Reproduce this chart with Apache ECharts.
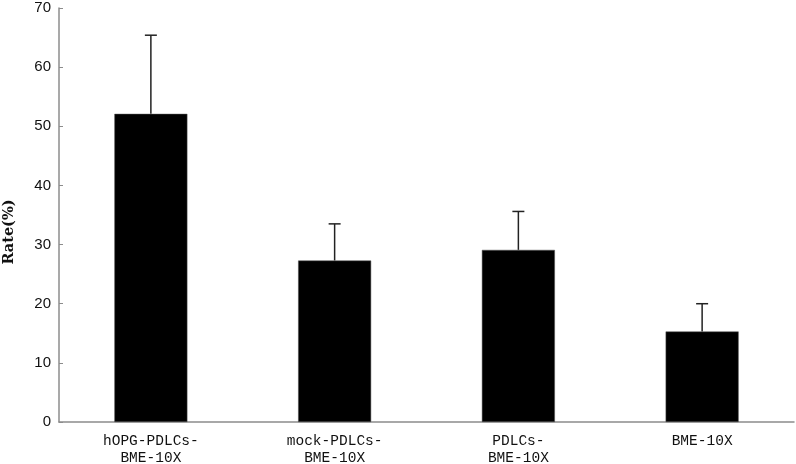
<!DOCTYPE html>
<html>
<head>
<meta charset="utf-8">
<script src="https://cdn.jsdelivr.net/npm/echarts@6/dist/echarts.min.js"></script>
<style>
    html, body { margin: 0; padding: 0; background: #fff; }
    #chart { width: 796px; height: 464px; }
</style>
</head>
<body>
<div id="chart"></div>
<script>
// 组别
const categories = ['hOPG-PDLCs-\nBME-10X', 'mock-PDLCs-\nBME-10X', 'PDLCs-\nBME-10X', 'BME-10X']
// 均值与误差 (%)
const rates = [52.1, 27.3, 29.1, 15.3]
const errors = [13.3, 6.2, 6.5, 4.7]
const yTicks = { min: 0, max: 70, interval: 10 }

const chart = echarts.init(document.getElementById('chart'))
const axisGrey = '#8c8c8c'

chart.setOption({
    animation: false,
    grid: { left: 59, right: 2, top: 8, bottom: 42, containLabel: false, outerBoundsMode: 'none' },
    xAxis: {
        type: 'category',
        data: categories,
        axisLine: { lineStyle: { color: axisGrey, width: 1.5 } },
        axisTick: { inside: true, length: 5, lineStyle: { color: axisGrey } },
        axisLabel: {
            color: '#111',
            fontFamily: 'Liberation Mono',
            fontSize: 14.5,
            lineHeight: 17,
            margin: 11,
        },
    },
    yAxis: {
        type: 'value',
        min: yTicks.min,
        max: yTicks.max,
        interval: yTicks.interval,
        name: 'Rate(%)',
        nameLocation: 'middle',
        nameGap: 42,
        nameTextStyle: {
            color: '#111',
            fontFamily: 'DejaVu Serif',
            fontWeight: 'bold',
            fontSize: 14.5,
            padding: [0, 34, 0, 0],
        },
        splitLine: { show: false },
        axisLine: { show: true, lineStyle: { color: axisGrey, width: 1.5 } },
        axisTick: { show: true, inside: true, length: 4, lineStyle: { color: axisGrey } },
        axisLabel: {
            color: '#111',
            fontFamily: 'Liberation Sans',
            fontSize: 15,
            margin: 8,
        },
    },
    series: [
        {
            type: 'bar',
            data: rates,
            barWidth: 73,
            itemStyle: { color: '#000', borderColor: '#555', borderWidth: 0.5 },
        },
        {
            // 误差线 (仅向上)
            type: 'custom',
            data: rates.map((v, i) => [i, v, v + errors[i]]),
            z: 1,
            renderItem: (params, api) => {
                const top = api.coord([api.value(0), api.value(2)])
                const base = api.coord([api.value(0), api.value(1)])
                const half = 6
                const style = { stroke: '#222', lineWidth: 1.5 }
                return {
                    type: 'group',
                    children: [
                        { type: 'line', shape: { x1: top[0], y1: base[1], x2: top[0], y2: top[1] }, style },
                        { type: 'line', shape: { x1: top[0] - half, y1: top[1], x2: top[0] + half, y2: top[1] }, style },
                    ],
                }
            },
        },
    ],
})
</script>
</body>
</html>
